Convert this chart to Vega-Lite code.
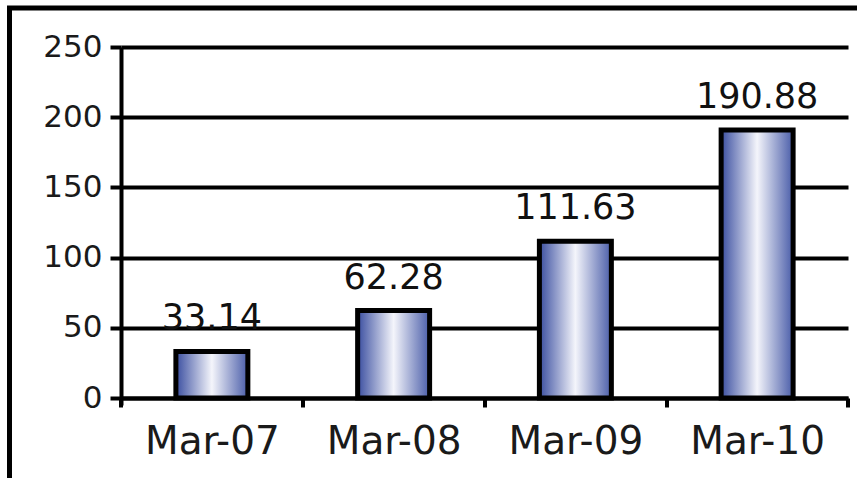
{
  "$schema": "https://vega.github.io/schema/vega-lite/v6.json",
  "width": 856.5,
  "height": 470,
  "autosize": {"type": "none"},
  "padding": {"left": 9.5, "top": 8, "right": 0, "bottom": 0},
  "background": "white",
  "data": {
    "values": [
      {"period": "Mar-07", "value": 33.14},
      {"period": "Mar-08", "value": 62.28},
      {"period": "Mar-09", "value": 111.63},
      {"period": "Mar-10", "value": 190.88}
    ]
  },
  "encoding": {
    "x": {
      "field": "period",
      "type": "nominal",
      "sort": null,
      "scale": {"paddingInner": 0, "paddingOuter": 0.35625, "align": 0.861},
      "axis": {
        "orient": "bottom",
        "offset": -80,
        "title": null,
        "grid": false,
        "tickBand": "extent",
        "tickSize": 9,
        "tickWidth": 4,
        "tickColor": "black",
        "domainColor": "black",
        "domainWidth": 4,
        "domainDash": [727, 1000],
        "domainDashOffset": 1615.5,
        "labelFont": "DejaVu Sans",
        "labelFontSize": 39,
        "labelColor": "#1a1a1a",
        "labelPadding": 15,
        "labelAngle": 0
      }
    },
    "y": {
      "field": "value",
      "type": "quantitative",
      "scale": {"domain": [-56.98, 277.78], "nice": false, "zero": false},
      "axis": {
        "orient": "left",
        "offset": -111.5,
        "title": null,
        "values": [0, 50, 100, 150, 200, 250],
        "tickSize": 11,
        "tickWidth": 4,
        "tickColor": "black",
        "domainColor": "black",
        "domainWidth": 4,
        "domainDash": [358, 1000],
        "domainDashOffset": 1285,
        "grid": true,
        "gridColor": "black",
        "gridWidth": 4,
        "gridOpacity": 1,
        "gridDash": [727, 1000],
        "gridDashOffset": 1615.5,
        "labelFont": "DejaVu Sans",
        "labelFontSize": 31,
        "labelColor": "#1a1a1a",
        "labelPadding": 8
      }
    }
  },
  "layer": [
    {
      "mark": {
        "type": "bar",
        "width": {"band": 0.396},
        "fill": {
          "gradient": "linear",
          "x1": 0, "y1": 0, "x2": 1, "y2": 0,
          "stops": [
            {"offset": 0, "color": "#3a4ea0"},
            {"offset": 0.5, "color": "#f4f5fb"},
            {"offset": 1, "color": "#4a5da9"}
          ]
        },
        "stroke": "black",
        "strokeWidth": 5
      },
      "encoding": {"y2": {"datum": 0}}
    },
    {
      "mark": {
        "type": "text",
        "font": "DejaVu Sans",
        "fontSize": 35,
        "baseline": "middle",
        "dy": -33,
        "color": "#111111"
      },
      "encoding": {
        "text": {"field": "value", "type": "quantitative", "format": ".2f"}
      }
    }
  ],
  "config": {
    "view": {
      "stroke": "black",
      "strokeWidth": 5,
      "strokeDash": [847.5, 1335.5, 470, 100]
    }
  }
}
